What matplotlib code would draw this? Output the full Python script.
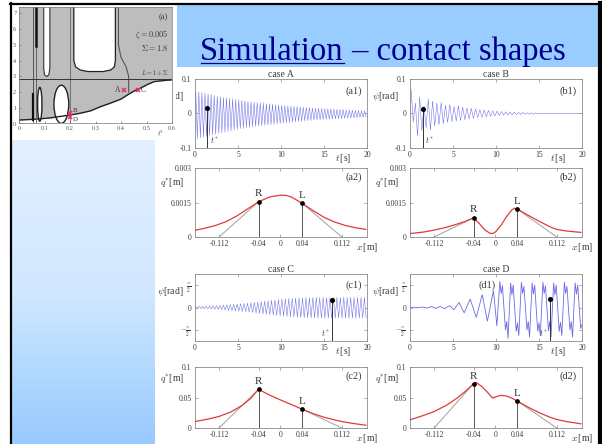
import numpy as np
import matplotlib
matplotlib.use("Agg")
import matplotlib.pyplot as plt
from matplotlib.patches import Rectangle, Ellipse

plt.rcParams['font.family'] = ['Liberation Serif', 'DejaVu Serif']
plt.rcParams['mathtext.fontset'] = 'cm'
plt.rcParams['axes.unicode_minus'] = False

# ---------------- data ----------------
# time histories: successive maxima / minima of psi [rad]
period_A = 0.357
psi_A_max = [0.065, 0.063, 0.061, 0.059, 0.057, 0.055, 0.053, 0.051, 0.049, 0.047,
             0.046, 0.044, 0.043, 0.041, 0.040, 0.038, 0.037, 0.035, 0.034, 0.033,
             0.032, 0.031, 0.030, 0.029, 0.028, 0.027, 0.026, 0.025, 0.024, 0.023,
             0.022, 0.021, 0.0205, 0.020, 0.019, 0.018, 0.0175, 0.017, 0.016, 0.0155,
             0.015, 0.0145, 0.014, 0.0135, 0.013, 0.0125, 0.012, 0.0115, 0.011, 0.0105,
             0.010, 0.0095, 0.009, 0.0085, 0.008, 0.0075]
psi_A_min = [-0.072, -0.070, -0.068, -0.066, -0.064, -0.062, -0.060, -0.058, -0.056, -0.054,
             -0.052, -0.050, -0.048, -0.046, -0.044, -0.043, -0.041, -0.040, -0.038, -0.037,
             -0.036, -0.035, -0.034, -0.033, -0.032, -0.031, -0.030, -0.029, -0.028, -0.027,
             -0.026, -0.025, -0.024, -0.023, -0.022, -0.021, -0.0205, -0.020, -0.019, -0.0185,
             -0.018, -0.0175, -0.017, -0.0165, -0.016, -0.0155, -0.015, -0.0145, -0.014, -0.0135,
             -0.013, -0.0125, -0.012, -0.011, -0.0105, -0.010]

period_B = 0.5
psi_B_max = [0.070, 0.030, 0.048, 0.022, 0.042, 0.036, 0.030, 0.032, 0.024, 0.026,
             0.020, 0.022, 0.018, 0.016, 0.015, 0.013, 0.011, 0.010, 0.009, 0.008,
             0.007, 0.006, 0.005, 0.004, 0.004, 0.003, 0.003, 0.002, 0.002, 0.002,
             0.0015, 0.0015, 0.001, 0.001, 0.001, 0.001, 0.001, 0.001, 0.001, 0.001]
psi_B_min = [-0.025, -0.065, -0.050, -0.042, -0.048, -0.036, -0.032, -0.030, -0.026, -0.024,
             -0.022, -0.020, -0.018, -0.016, -0.014, -0.012, -0.011, -0.010, -0.008, -0.007,
             -0.006, -0.005, -0.005, -0.004, -0.003, -0.003, -0.002, -0.002, -0.002, -0.0015,
             -0.0015, -0.001, -0.001, -0.001, -0.001, -0.001, -0.001, -0.001, -0.001, -0.001]

period_C = 0.4
psi_C_max = [0.07, 0.08, 0.09, 0.10, 0.11, 0.12, 0.13, 0.15, 0.17, 0.19,
             0.21, 0.23, 0.25, 0.27, 0.29, 0.31, 0.33, 0.36, 0.39, 0.42,
             0.45, 0.48, 0.51, 0.54, 0.57, 0.60, 0.62, 0.64, 0.66, 0.67,
             0.68, 0.69, 0.70, 0.70, 0.71, 0.71, 0.71, 0.72, 0.72, 0.72,
             0.72, 0.72, 0.72, 0.72, 0.72, 0.72, 0.72, 0.72, 0.72, 0.72]
psi_C_min = [-0.07, -0.08, -0.09, -0.10, -0.11, -0.12, -0.14, -0.16, -0.18, -0.20,
             -0.22, -0.24, -0.26, -0.28, -0.30, -0.33, -0.36, -0.39, -0.42, -0.45,
             -0.48, -0.51, -0.54, -0.57, -0.60, -0.62, -0.64, -0.66, -0.68, -0.70,
             -0.71, -0.72, -0.73, -0.74, -0.74, -0.75, -0.75, -0.75, -0.75, -0.75,
             -0.75, -0.75, -0.75, -0.75, -0.75, -0.75, -0.75, -0.75, -0.75, -0.75]

t_D = [0.0, 0.5, 1.0, 1.5, 2.0, 2.5, 3.0, 3.5, 4.0, 4.6, 5.1, 5.7, 6.3, 7.0, 7.7, 8.4, 9.0, 9.7, 10.1,
       10.45, 10.6, 10.75, 11.1, 11.25, 11.4,
       11.7, 11.85, 12.0, 12.35, 12.5, 12.65,
       12.95, 13.1, 13.25, 13.6, 13.75, 13.9,
       14.2, 14.35, 14.5, 14.85, 15.0, 15.15,
       15.45, 15.6, 15.75, 16.1, 16.25, 16.4,
       16.7, 16.85, 17.0, 17.35, 17.5, 17.65,
       17.95, 18.1, 18.25, 18.6, 18.75, 18.9,
       19.2, 19.35, 19.5, 19.85, 20.0]
psi_D = [0.0, 0.02, -0.02, 0.04, -0.04, 0.06, -0.06, 0.08, -0.09, 0.13, -0.16, 0.36, -0.38, 0.6, -0.7, 0.92, -0.97, 1.2, -1.3,
         1.85, 1.0, 1.55, -1.6, -1.0, -2.2,
         1.75, 0.9, 1.6, -1.7, -1.1, -2.0,
         1.8, 1.0, 1.5, -1.6, -1.0, -2.1,
         1.75, 0.95, 1.6, -1.7, -1.1, -2.0,
         1.8, 1.0, 1.55, -1.65, -1.0, -2.1,
         1.75, 0.9, 1.6, -1.7, -1.05, -2.0,
         1.8, 1.0, 1.5, -1.6, -1.0, -2.1,
         1.75, 0.95, 1.6, -1.5, -1.2]

# contact instants t* and psi(t*)
t_star = {'A': 1.4, 'B': 1.5, 'C': 15.9, 'D': 16.3}
psi_star = {'A': 0.017, 'B': 0.012, 'C': 0.55, 'D': 0.6}

# contact shapes q*(x) [m]
x_a2 = [-0.156, -0.14, -0.12, -0.10, -0.08, -0.06, -0.04, -0.02, 0.0, 0.01, 0.02,
        0.04, 0.06, 0.08, 0.10, 0.12, 0.14, 0.156]
q_a2 = [0.00029, 0.00037, 0.00049, 0.00066, 0.00091, 0.00122, 0.00153, 0.00174, 0.00182,
        0.00181, 0.00174, 0.00146, 0.00114, 0.00085, 0.00064, 0.00049, 0.00039, 0.00033]

x_b2 = [-0.156, -0.13, -0.112, -0.09, -0.07, -0.055, -0.04, -0.03, -0.02, -0.01, -0.005,
        0.0, 0.01, 0.02, 0.03, 0.035, 0.04, 0.06, 0.08, 0.10, 0.112, 0.13, 0.156]
q_b2 = [0.00015, 0.00022, 0.00030, 0.00042, 0.00056, 0.00068, 0.00083, 0.00060, 0.00032,
        0.00016, 0.00015, 0.00022, 0.00050, 0.00088, 0.00118, 0.00125, 0.00121, 0.00094,
        0.00068, 0.00044, 0.00033, 0.00026, 0.00020]

x_c2 = [-0.156, -0.13, -0.112, -0.09, -0.07, -0.055, -0.04, -0.02, 0.0, 0.02, 0.04,
        0.06, 0.08, 0.10, 0.112, 0.13, 0.156]
q_c2 = [0.0106, 0.0150, 0.0190, 0.0265, 0.0370, 0.0480, 0.0634, 0.0540, 0.0460, 0.0385,
        0.0306, 0.0235, 0.0175, 0.0130, 0.0106, 0.0078, 0.0045]

x_d2 = [-0.156, -0.13, -0.112, -0.09, -0.07, -0.055, -0.04, -0.035, -0.025, -0.015, -0.005,
        0.0, 0.01, 0.02, 0.03, 0.04, 0.06, 0.08, 0.10, 0.112, 0.13, 0.156]
q_d2 = [0.0134, 0.0210, 0.0270, 0.0370, 0.0490, 0.0600, 0.0726, 0.0745, 0.0680, 0.0590,
        0.0490, 0.0510, 0.0535, 0.0525, 0.0490, 0.0440, 0.0340, 0.0250, 0.0175, 0.0140,
        0.0105, 0.0069]

x_R, x_L, x_base = -0.04, 0.04, 0.112
profile_ticks = [-0.112, -0.04, 0, 0.04, 0.112]
profile_ticklabels = ['-0.112', '-0.04', '0', '0.04', '0.112']
time_ticks = [0, 5, 10, 15, 20]

# stability chart (a)
stab_x = [0.0, 0.06, 0.12, 0.2, 0.24, 0.28, 0.32, 0.36, 0.4, 0.424, 0.45, 0.476, 0.5, 0.53, 0.58, 0.6]
stab_y = [0.22, 0.27, 0.35, 0.54, 0.65, 0.8, 1.07, 1.3, 1.55, 1.8, 2.05, 2.24, 2.45, 2.66, 2.75, 2.77]
island_x = [0.215, 0.215, 0.222, 0.24, 0.27, 0.33, 0.36, 0.374, 0.378, 0.378]
island_y = [7.6, 4.0, 3.6, 3.4, 3.3, 3.3, 3.4, 3.6, 4.0, 7.6]
slit_x = [0.097, 0.097, 0.1, 0.109, 0.117, 0.121, 0.121]
slit_y = [7.6, 3.5, 3.1, 2.98, 3.1, 3.5, 7.6]
outer_x = [0.39, 0.39, 0.40, 0.42, 0.43, 0.43]
outer_y = [7.6, 5.0, 4.2, 3.6, 3.0, 2.0]
ell_cx = [0.0815, 0.166]
ell_cy = [1.22, 1.22]
ell_w = [0.017, 0.058]
ell_h = [2.15, 2.42]
L_level = 2.8
pts_x = {'A': 0.41, 'C': 0.467, 'B': 0.2, 'D': 0.2}
pts_y = {'A': 2.1, 'C': 2.1, 'B': 0.69, 'D': 0.4}

# ---------------- figure ----------------
W, H = 602, 444
fig = plt.figure(figsize=(W / 100, H / 100), dpi=100)
fig.patch.set_facecolor('white')


def px_axes(x, y, w, h, **kw):
    return fig.add_axes([x / W, 1 - (y + h) / H, w / W, h / H], **kw)


FRAME = '#8c8c8c'
TXT = '#3a3a3a'
BLUE = '#6a6ae6'
RED = '#e23a3a'


def style(ax):
    for s in ax.spines.values():
        s.set_color(FRAME)
        s.set_linewidth(0.6)
    ax.tick_params(direction='in', length=2, width=0.5, color=FRAME, labelsize=5.5,
                   pad=2.5, top=True, right=True, labelcolor=TXT)


def osc(period, upper, lower):
    t, v = [0.0], [0.0]
    for k, (u, l) in enumerate(zip(upper, lower)):
        t += [k * period + period / 4, k * period + 3 * period / 4]
        v += [u, l]
    return t, v


def time_panel(ax, t, v, key, tag, ylim, yticks, yticklabels, tag_pos=(0.97, 0.9), star_side=1, lw=0.35):
    style(ax)
    ax.plot(t, v, color=BLUE, lw=lw)
    ax.set_xlim(0, 20)
    ax.set_ylim(*ylim)
    ax.set_xticks(time_ticks)
    ax.set_xticklabels([str(k) for k in time_ticks])
    ax.set_yticks(yticks)
    ax.set_yticklabels(yticklabels)
    ts, ps = t_star[key], psi_star[key]
    ax.plot([ts, ts], [ylim[0], ps], color='#333333', lw=0.7)
    ax.plot([ts], [ps], 'o', color='k', ms=2.6)
    ax.text(ts + 0.3 * star_side, ylim[0] + 0.04 * (ylim[1] - ylim[0]), r'$t^{*}$',
            ha='left' if star_side > 0 else 'right', va='bottom', fontsize=6, color=TXT)
    ax.text(*tag_pos, tag, transform=ax.transAxes, ha='right', va='top', fontsize=7.5, color=TXT)
    ax.text(17.2, -0.06, r'$t\,$[s]', transform=ax.get_xaxis_transform(), ha='center', va='top',
            fontsize=7, color=TXT)
    ax.text(-0.065, 0.74, r'$\psi$[rad]', transform=ax.transAxes, ha='right', va='center',
            fontsize=7, color=TXT)
    ax.set_title('case ' + key, fontsize=7, pad=1.5, color=TXT)


def profile_panel(ax, x, q, tag, ymax, yticklabels, ylab_y):
    style(ax)
    ax.plot(x, q, color=RED, lw=0.9, zorder=3)
    yR = q[x.index(x_R)]
    yL = q[x.index(x_L)]
    ax.plot([-x_base, x_R], [0, yR], color='#a0a0a0', lw=0.7)
    ax.plot([x_base, x_L], [0, yL], color='#a0a0a0', lw=0.7)
    ax.plot([x_R, x_R], [0, yR], color='#555555', lw=0.7)
    ax.plot([x_L, x_L], [0, yL], color='#555555', lw=0.7)
    ax.plot([x_R, x_L], [yR, yL], 'o', color='k', ms=2.4, zorder=4)
    ax.text(x_R, yR + 0.05 * ymax, 'R', ha='center', va='bottom', fontsize=8, color='#333333')
    ax.text(x_L, yL + 0.05 * ymax, 'L', ha='center', va='bottom', fontsize=8, color='#333333')
    ax.set_xlim(-0.156, 0.158)
    ax.set_ylim(0, ymax)
    ax.set_xticks(profile_ticks)
    ax.set_xticklabels(profile_ticklabels)
    ax.set_yticks([0, ymax / 2, ymax])
    ax.set_yticklabels(yticklabels)
    ax.text(0.97, 0.93, tag, transform=ax.transAxes, ha='right', va='top', fontsize=7.5, color=TXT)
    ax.text(1.0, -0.06, r'$x\,$[m]', transform=ax.transAxes, ha='center', va='top',
            fontsize=7, color=TXT)
    ax.text(-0.06, ylab_y, r'$q^{*}$[m]', transform=ax.transAxes, ha='right', va='center',
            fontsize=7, color=TXT)


LX, RX, AW = 195, 410, 172
pi_ticks = [-np.pi / 2, 0, np.pi / 2]
pi_labels = [r'$-\frac{\pi}{2}$', '0', r'$\frac{\pi}{2}$']
pi_lim = (-0.76 * np.pi, 0.76 * np.pi)

ax_a1 = px_axes(LX, 79, AW, 69)
tA, vA = osc(period_A, psi_A_max, psi_A_min)
time_panel(ax_a1, tA, vA, 'A', '(a1)', (-0.1, 0.1), [-0.1, 0, 0.1], ['-0.1', '0', '0.1'])

ax_b1 = px_axes(RX, 79, AW, 69)
tB, vB = osc(period_B, psi_B_max, psi_B_min)
time_panel(ax_b1, tB, vB, 'B', '(b1)', (-0.1, 0.1), [-0.1, 0, 0.1], ['-0.1', '0', '0.1'])

ax_a2 = px_axes(LX, 168, AW, 69)
profile_panel(ax_a2, x_a2, q_a2, '(a2)', 0.003, ['0', '0.0015', '0.003'], 0.77)
ax_b2 = px_axes(RX, 168, AW, 69)
profile_panel(ax_b2, x_b2, q_b2, '(b2)', 0.003, ['0', '0.0015', '0.003'], 0.77)

ax_c1 = px_axes(LX, 274, AW, 67)
tC, vC = osc(period_C, psi_C_max, psi_C_min)
time_panel(ax_c1, tC, vC, 'C', '(c1)', pi_lim, pi_ticks, pi_labels, star_side=-1)

ax_d1 = px_axes(RX, 274, AW, 67)
time_panel(ax_d1, t_D, psi_D, 'D', '(d1)', pi_lim, pi_ticks, pi_labels, tag_pos=(0.5, 0.9),
           star_side=-1, lw=0.6)

ax_c2 = px_axes(LX, 367, AW, 61)
profile_panel(ax_c2, x_c2, q_c2, '(c2)', 0.1, ['0', '0.05', '0.1'], 0.8)
ax_d2 = px_axes(RX, 367, AW, 61)
profile_panel(ax_d2, x_d2, q_d2, '(d2)', 0.1, ['0', '0.05', '0.1'], 0.8)

# ---------- slide decoration: panels, title bar, frame ----------
deco = fig.add_axes([0, 0, 1, 1], zorder=20)
deco.set_xlim(0, W)
deco.set_ylim(H, 0)
deco.axis('off')
deco.patch.set_alpha(0)
deco.add_patch(Rectangle((12, 5), 164, 135, facecolor='white', edgecolor='none'))
grad_y = np.linspace(0, 1, 200)
grad = np.stack([np.interp(grad_y, [0, 0.5, 0.8, 1], c) for c in
                 ([0.89, 0.82, 0.68, 0.60], [0.94, 0.91, 0.84, 0.79], [1, 1, 1, 1])], axis=1)
deco.imshow(grad[:, None, :], extent=[12, 155, H, 140], aspect='auto', zorder=1)
deco.add_patch(Rectangle((177, 5), 421, 62, facecolor='#99ccff', edgecolor='none', zorder=2))
t1 = deco.text(200, 60, 'Simulation', fontsize=23.5, color='#000090', ha='left',
               va='baseline', zorder=3)
fig.canvas.draw()
bb = t1.get_window_extent().transformed(deco.transData.inverted())
deco.text(bb.x1, 60, ' \u2013 contact shapes', fontsize=23.5, color='#000090', ha='left',
          va='baseline', zorder=3)
deco.plot([bb.x0 + 1, bb.x1], [63, 63], color='#000090', lw=0.9, zorder=3)
deco.plot([11, 11], [3, H], color='black', lw=1.6, zorder=5)
deco.plot([10, W], [4, 4], color='black', lw=1.6, zorder=5)
deco.plot([600, 600], [3, H], color='black', lw=3.0, zorder=5)

# ---------- stability chart (a) ----------
ax_s = px_axes(19, 7, 153, 116.5, zorder=25)
ax_s.set_facecolor('#bdbdbd')
ax_s.fill_between(stab_x, 0, stab_y, color='white', lw=0)
ax_s.plot(stab_x, stab_y, color='#222222', lw=1.0)
ax_s.fill(island_x, island_y, color='white', lw=0)
ax_s.plot(island_x, island_y, color='#222222', lw=0.9)
ax_s.fill(slit_x, slit_y, color='white', lw=0)
ax_s.plot(slit_x, slit_y, color='#333333', lw=0.8)
ax_s.plot(outer_x, outer_y, color='#555555', lw=0.8)
for cx, cy, w, h in zip(ell_cx, ell_cy, ell_w, ell_h):
    ax_s.add_patch(Ellipse((cx, cy), w, h, facecolor='white', edgecolor='#222222', lw=1.0))
ax_s.axvline(0.055, color='#444444', lw=0.6)
ax_s.plot([0.055, 0.055], [0.2, 1.9], color='#111111', lw=1.6)
ax_s.plot([0.066, 0.066], [0, 4.9], color='#555555', lw=0.6)
ax_s.plot([0.066, 0.066], [4.9, 7.6], color='#111111', lw=1.8)
ax_s.axvline(0.2, color='#555555', lw=0.5)
ax_s.axhline(L_level, color='#333333', lw=0.7)
for k in ['A', 'C', 'B', 'D']:
    ax_s.plot(pts_x[k], pts_y[k], marker='x', color='#e8305a', ms=3.2, mew=1.1)
ax_s.text(pts_x['A'] - 0.012, pts_y['A'], 'A', ha='right', va='center', fontsize=5.5, color=TXT)
ax_s.text(pts_x['C'] + 0.012, pts_y['C'], 'C', ha='left', va='center', fontsize=5.5, color=TXT)
ax_s.text(pts_x['B'] + 0.012, pts_y['B'] + 0.15, 'B', ha='left', va='center', fontsize=5, color=TXT)
ax_s.text(pts_x['D'] + 0.012, pts_y['D'] - 0.15, 'D', ha='left', va='center', fontsize=5, color=TXT)
ax_s.text(0.97, 0.95, '(a)', transform=ax_s.transAxes, ha='right', va='top', fontsize=6, color=TXT)
ax_s.text(0.98, 0.76, r'$\zeta = 0.005$', transform=ax_s.transAxes, ha='right', va='center',
          fontsize=6, color=TXT)
ax_s.text(0.98, 0.65, r'$\Sigma = 1.8$', transform=ax_s.transAxes, ha='right', va='center',
          fontsize=6, color=TXT)
ax_s.text(0.98, L_level + 0.1, r'$L = 1 + \Sigma$', transform=ax_s.get_yaxis_transform(),
          ha='right', va='bottom', fontsize=4.5, color=TXT)
ax_s.set_xlim(0, 0.6)
ax_s.set_ylim(0, 7.4)
ax_s.set_xticks([0, 0.1, 0.2, 0.3, 0.4, 0.5, 0.6])
ax_s.set_xticklabels(['0', '0.1', '0.2', '0.3', '0.4', '0.5', '0.6'])
ax_s.set_yticks(range(8))
ax_s.tick_params(direction='in', length=1.5, width=0.4, labelsize=4.5, pad=2, colors='#555555')
ax_s.text(0.555, -0.045, r"$\ell'$", transform=ax_s.get_xaxis_transform(), ha='center',
          va='top', fontsize=5, color=TXT)
for s in ax_s.spines.values():
    s.set_color('#777777')
    s.set_linewidth(0.5)

fig.savefig('out.png', dpi=100)
